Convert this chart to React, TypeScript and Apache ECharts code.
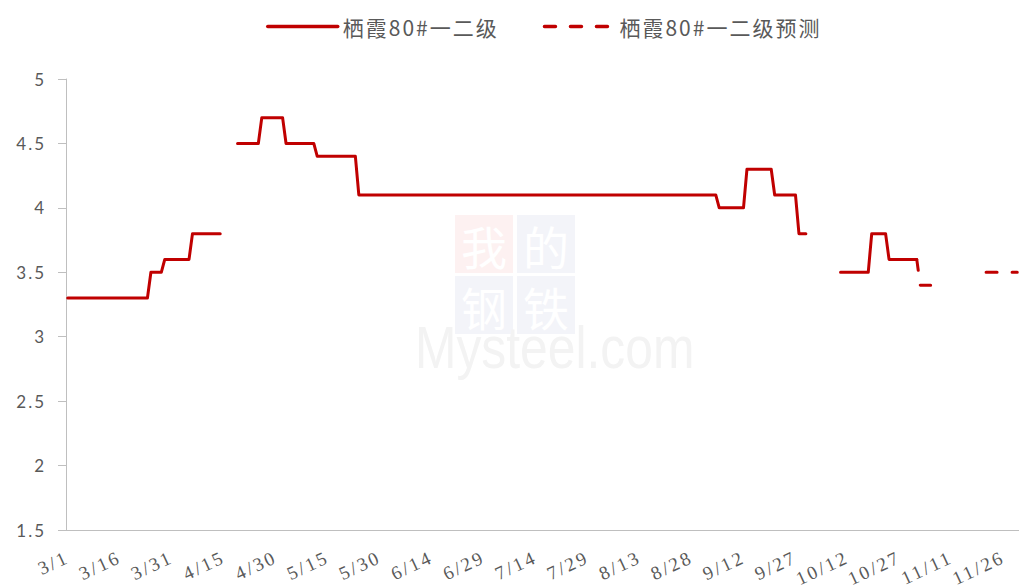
import React, { useEffect, useRef } from 'react';
import * as echarts from 'echarts';

const _ = null;

// categories: every day from 3/1 to 11/30
const MONTHS = [3, 4, 5, 6, 7, 8, 9, 10, 11];
const MONTH_DAYS = [31, 30, 31, 30, 31, 31, 30, 31, 30];
const categories: string[] = [];
MONTHS.forEach((m, i) => {
  for (let d = 1; d <= MONTH_DAYS[i]; d++) categories.push(`${m}/${d}`);
});

// 栖霞80#一二级 (daily)
const solidMar = [3.3, 3.3, 3.3, 3.3, 3.3, 3.3, 3.3, 3.3, 3.3, 3.3, 3.3, 3.3, 3.3, 3.3, 3.3, 3.3, 3.3, 3.3, 3.3, 3.3, 3.3, 3.3, 3.3, 3.3, 3.5, 3.5, 3.5, 3.5, 3.6, 3.6, 3.6];
const solidApr = [3.6, 3.6, 3.6, 3.6, 3.6, 3.8, 3.8, 3.8, 3.8, 3.8, 3.8, 3.8, 3.8, 3.8, _, _, _, _, 4.5, 4.5, 4.5, 4.5, 4.5, 4.5, 4.5, 4.7, 4.7, 4.7, 4.7, 4.7];
const solidMay = [4.7, 4.7, 4.5, 4.5, 4.5, 4.5, 4.5, 4.5, 4.5, 4.5, 4.5, 4.4, 4.4, 4.4, 4.4, 4.4, 4.4, 4.4, 4.4, 4.4, 4.4, 4.4, 4.4, 4.1, 4.1, 4.1, 4.1, 4.1, 4.1, 4.1, 4.1];
const solidJun = [4.1, 4.1, 4.1, 4.1, 4.1, 4.1, 4.1, 4.1, 4.1, 4.1, 4.1, 4.1, 4.1, 4.1, 4.1, 4.1, 4.1, 4.1, 4.1, 4.1, 4.1, 4.1, 4.1, 4.1, 4.1, 4.1, 4.1, 4.1, 4.1, 4.1];
const solidJul = [4.1, 4.1, 4.1, 4.1, 4.1, 4.1, 4.1, 4.1, 4.1, 4.1, 4.1, 4.1, 4.1, 4.1, 4.1, 4.1, 4.1, 4.1, 4.1, 4.1, 4.1, 4.1, 4.1, 4.1, 4.1, 4.1, 4.1, 4.1, 4.1, 4.1, 4.1];
const solidAug = [4.1, 4.1, 4.1, 4.1, 4.1, 4.1, 4.1, 4.1, 4.1, 4.1, 4.1, 4.1, 4.1, 4.1, 4.1, 4.1, 4.1, 4.1, 4.1, 4.1, 4.1, 4.1, 4.1, 4.1, 4.1, 4.1, 4.1, 4.1, 4.1, 4.1, 4.1];
const solidSep = [4.1, 4.1, 4.1, 4.1, 4.0, 4.0, 4.0, 4.0, 4.0, 4.0, 4.0, 4.0, 4.3, 4.3, 4.3, 4.3, 4.3, 4.3, 4.3, 4.3, 4.1, 4.1, 4.1, 4.1, 4.1, 4.1, 4.1, 3.8, 3.8, 3.8];
const solidOct = [_, _, _, _, _, _, _, _, _, 3.5, 3.5, 3.5, 3.5, 3.5, 3.5, 3.5, 3.5, 3.5, 3.8, 3.8, 3.8, 3.8, 3.8, 3.6, 3.6, 3.6, 3.6, 3.6, 3.6, 3.6, 3.6];
const solidNov = [3.6, _, _, _, _, _, _, _, _, _, _, _, _, _, _, _, _, _, _, _, _, _, _, _, _, _, _, _, _, _];
const solidValues = [...solidMar, ...solidApr, ...solidMay, ...solidJun, ...solidJul, ...solidAug, ...solidSep, ...solidOct, ...solidNov];

// 栖霞80#一二级预测 as [date, value] pairs ('-' breaks the line)
const forecastDates = ['11/1', '11/2', '11/3', '11/4', '11/5', '11/6', '11/21', '11/22', '11/23', '11/24', '11/25', '11/26', '11/27', '11/28', '11/29', '11/30'];
const forecastValues: (number | string)[] = [3.6, 3.4, 3.4, 3.4, 3.4, '-', 3.5, 3.5, 3.5, 3.5, 3.5, 3.5, 3.5, 3.5, 3.5, 3.5];

const SERIES_NAMES = ['栖霞80#一二级', '栖霞80#一二级预测'];
const RED = '#c00000';
const AXIS = '#bfbfbf';
const TEXT = '#595959';

function applySpacing(root: HTMLElement) {
  root.querySelectorAll('text').forEach((t) => {
    const s = t.textContent || '';
    let ls = '';
    if (s.startsWith('栖霞')) ls = '2px';
    else if (/^\d+\/\d+$/.test(s)) ls = '2.5px';
    else if (/^\d+(\.\d+)?$/.test(s)) ls = '2px';
    if (ls) (t as SVGTextElement).style.letterSpacing = ls;
  });
}

export default function App() {
  const ref = useRef<HTMLDivElement>(null);
  useEffect(() => {
    if (!ref.current) return;
    const el = ref.current;
    const chart = echarts.init(el, undefined, { renderer: 'svg' });
    const sq = (x: number, y: number, fill: string, ch: string) => [
      { type: 'rect', z: 0, silent: true, shape: { x, y, width: 58, height: 58 }, style: { fill } },
      {
        type: 'text', z: 0, silent: true, x: x + 29, y: y + 30,
        style: { text: ch, fill: '#ffffff', fontSize: 46, fontFamily: 'Noto Sans CJK SC', align: 'center', verticalAlign: 'middle', textAlign: 'center', textVerticalAlign: 'middle' },
      },
    ];
    chart.setOption({
      animation: false,
      graphic: [
        ...sq(455, 215, '#fdf1f1', '我'),
        ...sq(517, 215, '#f3f4f9', '的'),
        ...sq(455, 276, '#f3f4f9', '钢'),
        ...sq(517, 276, '#f3f4f9', '铁'),
        {
          type: 'text', z: 0, silent: true, x: 415, y: 347, scaleX: 0.83,
          style: { text: 'Mysteel.com', fill: '#f3f3f3', fontSize: 60, fontFamily: 'Liberation Sans', verticalAlign: 'middle', textVerticalAlign: 'middle' },
        },
      ],
      legend: {
        left: 261,
        top: 11,
        itemWidth: 70,
        itemHeight: 14,
        itemGap: 60,
        selectedMode: false,
        lineStyle: { width: 3.5 },
        itemStyle: { opacity: 0 },
        textStyle: { fontSize: 21, color: TEXT, fontFamily: 'Noto Sans CJK SC' },
        data: SERIES_NAMES,
      },
      grid: { left: 66, right: 0, top: 79, bottom: 58 },
      xAxis: {
        type: 'category',
        data: categories,
        boundaryGap: true,
        axisLine: { lineStyle: { color: AXIS, width: 1 } },
        axisTick: { interval: 14, alignWithLabel: true, length: 6, lineStyle: { color: AXIS } },
        axisLabel: { interval: 14, rotate: 25, margin: 26, fontSize: 19, color: TEXT, fontFamily: 'Liberation Serif' },
        splitLine: { show: false },
      },
      yAxis: {
        type: 'value',
        min: 1.5,
        max: 5,
        interval: 0.5,
        axisLine: { show: true, lineStyle: { color: AXIS, width: 1 } },
        axisTick: { show: true, length: 8, lineStyle: { color: AXIS } },
        axisLabel: { margin: 20, fontSize: 17, color: TEXT, fontFamily: 'Lato' },
        splitLine: { show: false },
      },
      series: [
        {
          name: SERIES_NAMES[0],
          type: 'line',
          data: solidValues,
          symbol: 'none',
          showSymbol: false,
          connectNulls: false,
          silent: true,
          z: 3,
          emphasis: { disabled: true },
          lineStyle: { color: RED, width: 3, cap: 'round', join: 'round' },
          itemStyle: { color: RED },
        },
        {
          name: SERIES_NAMES[1],
          type: 'line',
          data: forecastDates.map((d, i) => [d, forecastValues[i]]),
          symbol: 'none',
          showSymbol: false,
          connectNulls: false,
          silent: true,
          z: 3,
          emphasis: { disabled: true },
          lineStyle: { color: RED, width: 3, type: [11, 15], cap: 'round', join: 'round' },
          itemStyle: { color: RED },
        },
      ],
    } as any);
    applySpacing(el);
    chart.on('finished', () => applySpacing(el));
    return () => {
      chart.dispose();
    };
  }, []);
  return <div ref={ref} style={{ position: 'absolute', left: 0, top: 0, width: 1019, height: 588 }} />;
}
